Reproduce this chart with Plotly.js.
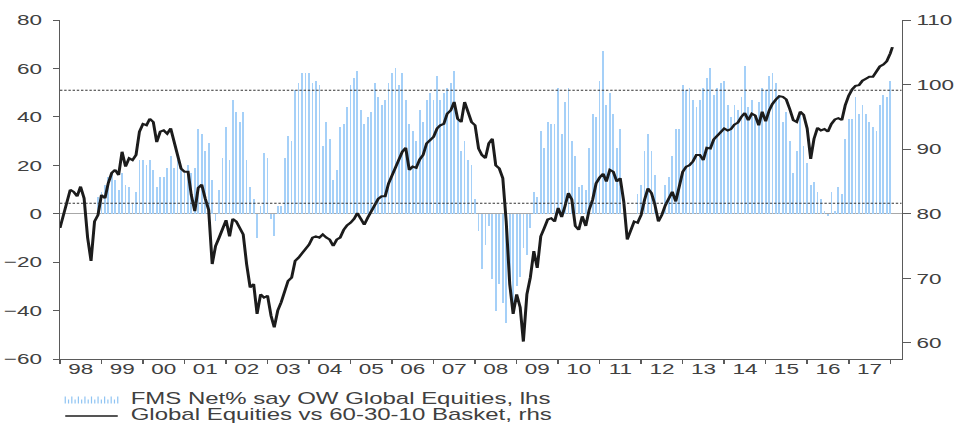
<!DOCTYPE html>
<html>
<head>
<meta charset="utf-8">
<script src="https://cdn.plot.ly/plotly-3.0.1.min.js"></script>
<style>
html,body{margin:0;padding:0;background:#fff;overflow:hidden;width:956px;height:423px}
#chart{width:645px;height:423px;transform:scaleX(1.5);transform-origin:0 0}
</style>
</head>
<body>
<div id="chart"></div>
<script>
// ---------------- data ----------------
const seriesNames = ['FMS Net% say OW Global Equities, lhs', 'Global Equities vs 60-30-10 Basket, rhs'];

// Global Equities vs 60-30-10 basket (rhs), monthly from Jan 1998
const lineStartYear = 1998, lineStartMonth = 1;
const lineValues = [
  77.8, 79.8, 81.6, 83.7, 83.4, 82.7, 84.2, 82.4, 76.3, 72.7, 78.8, 79.8,
  82.9, 82.4, 84.7, 86.3, 86.8, 86.0, 89.6, 87.3, 88.6, 88.3, 89.1, 92.7,
  93.9, 93.7, 94.7, 94.2, 91.1, 92.7, 92.9, 92.4, 93.2, 91.1, 89.1, 87.0,
  86.5, 86.5, 82.9, 80.4, 84.0, 84.5, 82.4, 80.6, 72.2, 75.0, 76.3, 77.8,
  79.0, 76.5, 79.2, 78.8, 77.8, 76.8, 72.2, 68.6, 69.1, 64.5, 67.5, 67.0,
  67.3, 64.2, 62.4, 65.0, 66.3, 68.1, 69.6, 70.1, 72.7, 73.2, 73.9, 74.5,
  75.2, 76.3, 76.5, 76.3, 76.8, 76.3, 76.0, 75.0, 76.0, 76.3, 77.5, 78.2,
  78.6, 79.2, 80.1, 79.2, 78.3, 79.4, 80.4, 81.6, 82.3, 82.7, 82.7, 84.7,
  86.0, 87.4, 88.3, 89.6, 90.2, 86.8, 87.3, 87.1, 88.4, 89.1, 90.9, 91.4,
  91.9, 93.2, 93.7, 93.9, 95.5, 96.0, 97.3, 94.7, 94.2, 97.3, 95.7, 94.2,
  93.7, 90.1, 89.1, 88.6, 90.9, 91.6, 87.5, 87.0, 85.5, 78.8, 69.1, 64.5,
  67.5, 65.5, 60.2, 67.5, 70.1, 74.2, 71.6, 76.5, 77.8, 79.1, 79.3, 78.8,
  80.9, 79.5, 81.1, 83.2, 82.2, 78.1, 77.5, 79.6, 78.1, 80.6, 82.2, 84.7,
  85.6, 86.2, 85.0, 86.8, 86.5, 85.0, 85.5, 81.9, 76.0, 77.5, 78.8, 78.6,
  79.8, 82.2, 83.9, 83.2, 81.4, 78.8, 79.8, 81.3, 82.5, 83.4, 81.9, 83.9,
  86.5, 87.3, 87.5, 88.1, 89.1, 89.1, 88.3, 90.2, 90.1, 91.5, 92.1, 92.7,
  93.2, 92.9, 93.1, 93.8, 94.1, 95.0, 95.6, 94.5, 95.5, 95.2, 93.7, 95.8,
  94.3, 96.0, 97.0, 97.7, 98.2, 98.1, 97.7, 96.2, 94.5, 94.2, 95.8, 95.3,
  93.2, 88.5, 91.6, 93.3, 92.9, 93.1, 92.7, 93.9, 94.6, 94.8, 94.5, 96.8,
  98.3, 99.3, 99.8, 99.9, 100.6, 100.9, 101.2, 101.2, 101.9, 102.8, 103.1, 103.6,
  104.8
];
const lineLastDate = '2018-01-20';
const lineLastValue = 105.8;

// FMS net % overweight global equities (lhs), monthly from Dec 1998
const barStartYear = 1998, barStartMonth = 12;
const barValues = [
  7, 9, 12, 15, 17, 14, 10, 17, 12, 11, 4, 9,
  22, 22, 20, 22, 18, 11, 15, 15, 19, 24, 19, 22,
  19, 17, 20, 17, 19, 35, 33, 26, 29, 14, -3, 10,
  23, 36, 22, 47, 42, 38, 42, 22, 11, 6, -10, 3,
  25, 23, -2, -9, 3, 3, 23, 32, 30, 51, 54, 58,
  58, 58, 54, 55, 53, 28, 38, 31, 14, 18, 36, 37,
  44, 53, 56, 59, 43, 37, 40, 42, 54, 48, 45, 47,
  54, 58, 60, 53, 58, 47, 37, 34, 30, 43, 38, 47,
  50, 47, 57, 47, 50, 52, 54, 59, 40, 26, 30, 22,
  20, 6, -7, -23, -13, -5, -27, -40, -29, -37, -45, -31,
  -38, -30, -26, -14, -17, -6, 9, 7, 34, 27, 38, 37,
  37, 52, 33, 46, 52, 30, 24, 11, 12, 10, 27, 41,
  40, 55, 67, 45, 50, 41, 27, 35, null, null, null, null,
  8, 12, 26, 33, 26, 16, null, null, 12, 15, 24, 35,
  35, 53, 51, 52, 47, 44, 47, 52, 56, 60, 49, 52,
  54, 55, 45, 40, 45, 43, 48, 61, 44, 47, 41, 46,
  52, 51, 57, 58, 54, 49, 38, 42, 30, 17, 26, 41,
  28, 21, 12, 13, 9, 6, 1, -1, 9, 1, 11, 8,
  31, 39, 39, 48, 41, 45, 41, 38, 36, 34, 45, 49,
  48, 55
];

// reference levels (lhs): dashed lines
const upperLevel = 51.0;
const lowerLevel = 4.3;

// axis tick labels
const yearLabels = ['98','99','00','01','02','03','04','05','06','07','08','09','10','11','12','13','14','15','16','17'];
const leftTicks = [-60, -40, -20, 0, 20, 40, 60, 80];
const rightTicks = [60, 70, 80, 90, 100, 110];

// ---------------- helpers ----------------
function pad(n){ return (n < 10 ? '0' : '') + n; }
function monthSeries(y0, m0, n){
  const out = [];
  for (let i = 0; i < n; i++){
    const t = (m0 - 1) + i;
    const y = y0 + Math.floor(t / 12);
    const m = (t % 12) + 1;
    out.push(y + '-' + pad(m) + '-01');
  }
  return out;
}
const firstYear = 1998;
const yearMids = yearLabels.map((_, i) => (firstYear + i) + '-07-02');
const yearStarts = yearLabels.concat(['']).map((_, i) => (firstYear + i) + '-01-01');

const lineX = monthSeries(lineStartYear, lineStartMonth, lineValues.length).concat([lineLastDate]);
const lineY = lineValues.concat([lineLastValue]);
const barX = monthSeries(barStartYear, barStartMonth, barValues.length);

// ---------------- layout geometry (unscaled px) ----------------
const W = 645, H = 423;
const M = {l: 40, r: 44, t: 20, b: 64};
const PW = W - M.l - M.r, PH = H - M.t - M.b;
const px = x => (x - M.l) / PW;          // unscaled x px -> paper
const py = y => (H - M.b - y) / PH;      // y px -> paper

const textColor = '#404040';
const axisColor = '#5a5a5a';
const barColor = '#a5d0f8';

// legend glyph for bars: row of thin vertical strokes
let glyph = '';
const gx0 = 43.5, gx1 = 78.5, nStrokes = 17;
for (let i = 0; i < nStrokes; i++){
  const x = gx0 + (gx1 - gx0) * i / (nStrokes - 1);
  const top = (i % 2 === 0) ? 396.5 : 399.5;
  glyph += 'M' + px(x).toFixed(5) + ',' + py(403.5).toFixed(5) + 'L' + px(x).toFixed(5) + ',' + py(top).toFixed(5);
}

const traces = [
  {
    type: 'bar', name: seriesNames[0],
    x: barX, y: barValues,
    width: 15 * 86400000,
    marker: {color: barColor, line: {width: 0}},
    xaxis: 'x', yaxis: 'y',
    hoverinfo: 'skip'
  },
  {
    type: 'scatter', mode: 'lines', name: seriesNames[1],
    x: lineX, y: lineY,
    line: {color: '#1c1c1c', width: 2.0},
    xaxis: 'x', yaxis: 'y2',
    hoverinfo: 'skip'
  }
];

const tickFont = {family: '"Liberation Sans", Arial, sans-serif', size: 15, color: textColor};

const layout = {
  width: W, height: H,
  margin: {l: M.l, r: M.r, t: M.t, b: M.b, pad: 0},
  paper_bgcolor: '#ffffff', plot_bgcolor: '#ffffff',
  showlegend: false,
  font: tickFont,
  bargap: 0,
  xaxis: {
    type: 'date',
    range: ['1998-01-01', '2018-04-10'],
    tickmode: 'array', tickvals: yearMids, ticktext: yearLabels,
    ticks: '', ticklabelstandoff: -4,
    showgrid: false, zeroline: false,
    showline: true, linecolor: axisColor, linewidth: 1,
    tickfont: tickFont,
    minor: {tickmode: 'array', tickvals: yearStarts, ticks: 'outside', ticklen: 4, tickwidth: 1, tickcolor: axisColor, showgrid: false}
  },
  yaxis: {
    range: [-60, 80],
    tickmode: 'array', tickvals: leftTicks,
    ticks: 'outside', ticklen: 4, tickwidth: 1, tickcolor: axisColor,
    ticklabelstandoff: 4,
    showline: true, linecolor: axisColor, linewidth: 1,
    showgrid: false,
    zeroline: true, zerolinecolor: '#a8a8a8', zerolinewidth: 1.5,
    tickfont: tickFont
  },
  yaxis2: {
    overlaying: 'y', side: 'right',
    range: [57.5, 110],
    tickmode: 'array', tickvals: rightTicks,
    ticks: 'outside', ticklen: 5, tickwidth: 1, tickcolor: axisColor,
    ticklabelstandoff: 1,
    showline: true, linecolor: axisColor, linewidth: 1,
    showgrid: false, zeroline: false,
    tickfont: tickFont
  },
  shapes: [
    {type: 'line', xref: 'paper', yref: 'y', x0: 0, x1: 1, y0: upperLevel, y1: upperLevel,
     line: {color: '#333333', width: 1, dash: '1.6px,1.2px'}, layer: 'above'},
    {type: 'line', xref: 'paper', yref: 'y', x0: 0, x1: 1, y0: lowerLevel, y1: lowerLevel,
     line: {color: '#333333', width: 1, dash: '1.6px,1.2px'}, layer: 'above'},
    {type: 'path', xref: 'paper', yref: 'paper', path: glyph,
     line: {color: '#8fc4f3', width: 0.8}, layer: 'above'},
    {type: 'line', xref: 'paper', yref: 'paper', x0: px(43.5), x1: px(78.5), y0: py(416), y1: py(416),
     line: {color: '#555555', width: 1.8}, layer: 'above'}
  ],
  annotations: [
    {xref: 'paper', yref: 'paper', x: px(84.5), y: py(398.5), xanchor: 'left', yanchor: 'middle',
     text: seriesNames[0], showarrow: false,
     font: {family: '"Liberation Sans", Arial, sans-serif', size: 16, color: textColor}},
    {xref: 'paper', yref: 'paper', x: px(84.5), y: py(414), xanchor: 'left', yanchor: 'middle',
     text: seriesNames[1], showarrow: false,
     font: {family: '"Liberation Sans", Arial, sans-serif', size: 16, color: textColor}}
  ]
};

Plotly.newPlot('chart', traces, layout, {staticPlot: true, displayModeBar: false, responsive: false});
</script>
</body>
</html>
